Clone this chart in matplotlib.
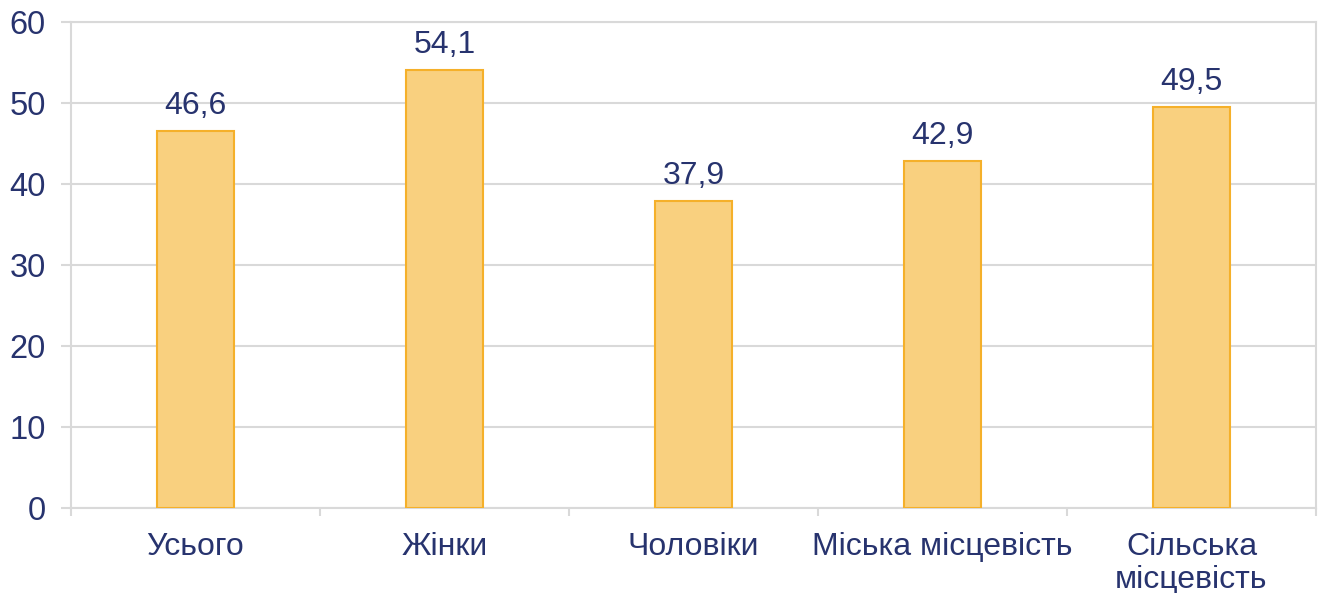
import matplotlib.pyplot as plt
import numpy as np

categories = ["Усього", "Жінки", "Чоловіки", "Міська місцевість", "Сільська\nмісцевість"]
values = [46.6, 54.1, 37.9, 42.9, 49.5]
value_labels = ["46,6", "54,1", "37,9", "42,9", "49,5"]

navy = "#27336E"
grid = "#D9D9D9"

plt.rcParams['font.family'] = ['Liberation Sans', 'DejaVu Sans']

fig = plt.figure(figsize=(13.27, 5.93), dpi=100)
ax = fig.add_axes([0.0535, 0.1433, 0.9382, 0.8196])

x = np.arange(len(categories))
ax.bar(x, values, width=0.31, color="#F9D07F", edgecolor="#F5B02A", linewidth=1.5, zorder=3)

for xi, v, lab in zip(x, values, value_labels):
    ax.annotate(lab, (xi, v), xytext=(0, 7), textcoords="offset points",
                ha="center", va="bottom", fontsize=23, color=navy)

ax.set_xlim(-0.5, len(categories) - 0.5)
ax.set_ylim(0, 60)
ax.set_yticks(range(0, 61, 10))
ax.yaxis.grid(True, color=grid, linewidth=1.5, zorder=0)
ax.tick_params(axis="y", length=7, width=1.5, color=grid, labelsize=23.5, labelcolor=navy, pad=11)

# category labels centred, tick marks on the boundaries
ax.set_xticks(x)
ax.set_xticklabels(categories, fontsize=23, color=navy, linespacing=1.15)
ax.tick_params(axis="x", which="major", length=0, pad=17)
ax.set_xticks(np.arange(-0.5, len(categories), 1.0), minor=True)
ax.tick_params(axis="x", which="minor", length=6, width=1.5, color=grid)

for s in ax.spines.values():
    s.set_color(grid)
    s.set_linewidth(1.5)

fig.savefig("out.png", dpi=100)
